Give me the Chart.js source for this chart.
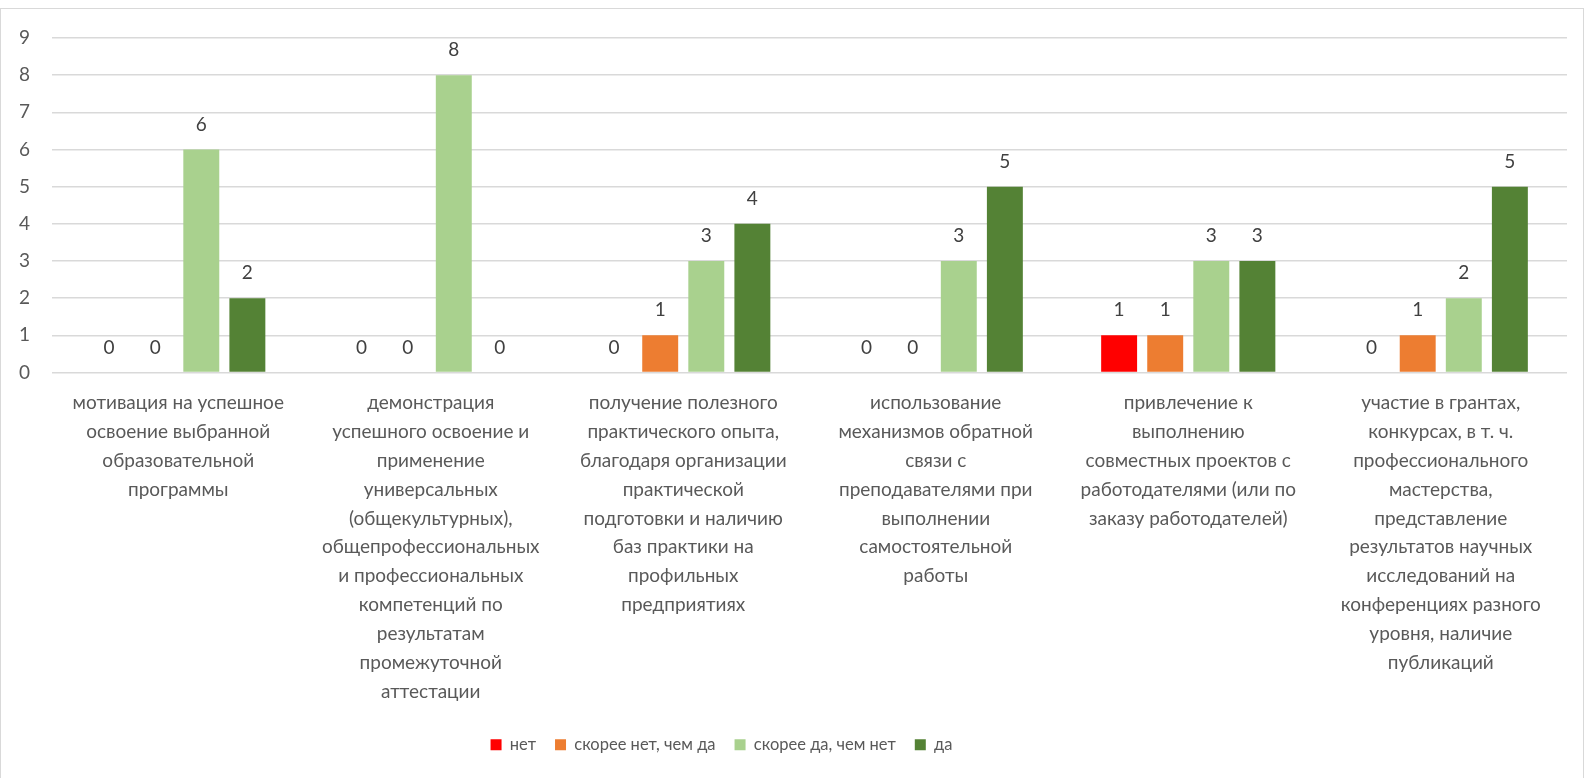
<!DOCTYPE html>
<html>
<head>
<meta charset="utf-8">
<script src="https://cdn.jsdelivr.net/npm/chart.js@4"></script>
<style>
  html, body { margin: 0; padding: 0; background: #fff; }
  #wrap { position: relative; width: 1584px; height: 778px; }
  #frame { position: absolute; left: 0; top: 8px; width: 1582px; height: 769px; border: 1px solid #d9d9d9; pointer-events: none; }
</style>
</head>
<body>
<div id="wrap">
  <canvas id="myChart" width="1584" height="778"></canvas>
  <div id="frame"></div>
</div>
<script>
// --------------------
// Data
// --------------------
const categories = [
  ["мотивация на успешное", "освоение выбранной", "образовательной", "программы"],
  ["демонстрация", "успешного освоение и", "применение", "универсальных", "(общекультурных),", "общепрофессиональных", "и профессиональных", "компетенций по", "результатам", "промежуточной", "аттестации"],
  ["получение полезного", "практического опыта,", "благодаря организации", "практической", "подготовки и наличию", "баз практики на", "профильных", "предприятиях"],
  ["использование", "механизмов обратной", "связи с", "преподавателями при", "выполнении", "самостоятельной", "работы"],
  ["привлечение к", "выполнению", "совместных проектов с", "работодателями (или по", "заказу работодателей)"],
  ["участие в грантах,", "конкурсах, в т. ч.", "профессионального", "мастерства,", "представление", "результатов научных", "исследований на", "конференциях разного", "уровня, наличие", "публикаций"]
];

const seriesNames = ["нет", "скорее нет, чем да", "скорее да, чем нет", "да"];
const netValues = [0, 0, 0, 0, 1, 0];
const skoreeNetValues = [0, 0, 1, 0, 1, 1];
const skoreeDaValues = [6, 8, 3, 3, 3, 2];
const daValues = [2, 0, 4, 5, 3, 5];

const colors = ["#FF0000", "#ED7D31", "#A9D18E", "#548235"];
const fontFamily = "Lato, 'Open Sans', sans-serif";
const textColor = "#595959";

// value labels above every bar (zeros too)
const valueLabels = {
  id: "valueLabels",
  afterDatasetsDraw(chart) {
    const ctx = chart.ctx;
    ctx.save();
    ctx.font = "19px " + fontFamily;
    ctx.fillStyle = "#404040";
    ctx.textAlign = "center";
    ctx.textBaseline = "middle";
    chart.data.datasets.forEach((ds, i) => {
      chart.getDatasetMeta(i).data.forEach((bar, j) => {
        ctx.fillText(String(ds.data[j]), bar.x, bar.y - 25);
      });
    });
    ctx.restore();
  }
};

// legend in the original sits a bit left of centre
const legendShift = {
  id: "legendShift",
  afterLayout(chart) {
    chart.legend.left -= 62;
    chart.legend.right -= 62;
  }
};

const datasets = [netValues, skoreeNetValues, skoreeDaValues, daValues].map((vals, i) => ({
  label: seriesNames[i],
  data: vals,
  backgroundColor: colors[i],
  borderWidth: 0,
  categoryPercentage: 0.73,
  barPercentage: 0.78
}));

new Chart(document.getElementById("myChart").getContext("2d"), {
  type: "bar",
  data: { labels: categories, datasets: datasets },
  plugins: [valueLabels, legendShift],
  options: {
    responsive: false,
    animation: false,
    layout: { padding: { top: 38, right: 17, bottom: 15, left: 0 } },
    scales: {
      x: {
        grid: { display: false, drawTicks: false },
        border: { display: false },
        ticks: {
          autoSkip: false,
          maxRotation: 0,
          minRotation: 0,
          padding: 16,
          color: textColor,
          font: { family: fontFamily, size: 19, lineHeight: 1.52 }
        },
        afterFit(scale) { scale.height = 345; }
      },
      y: {
        min: 0,
        max: 9,
        ticks: {
          stepSize: 1,
          padding: 22,
          color: textColor,
          font: { family: fontFamily, size: 19 }
        },
        grid: { color: "#d9d9d9", lineWidth: 1.5, drawTicks: false },
        border: { display: false },
        afterFit(scale) { scale.width = 52; }
      }
    },
    plugins: {
      legend: {
        position: "bottom",
        labels: {
          boxWidth: 11,
          boxHeight: 11,
          padding: 19,
          color: textColor,
          font: { family: fontFamily, size: 16.5 }
        }
      },
      tooltip: { enabled: false }
    }
  }
});
</script>
</body>
</html>
